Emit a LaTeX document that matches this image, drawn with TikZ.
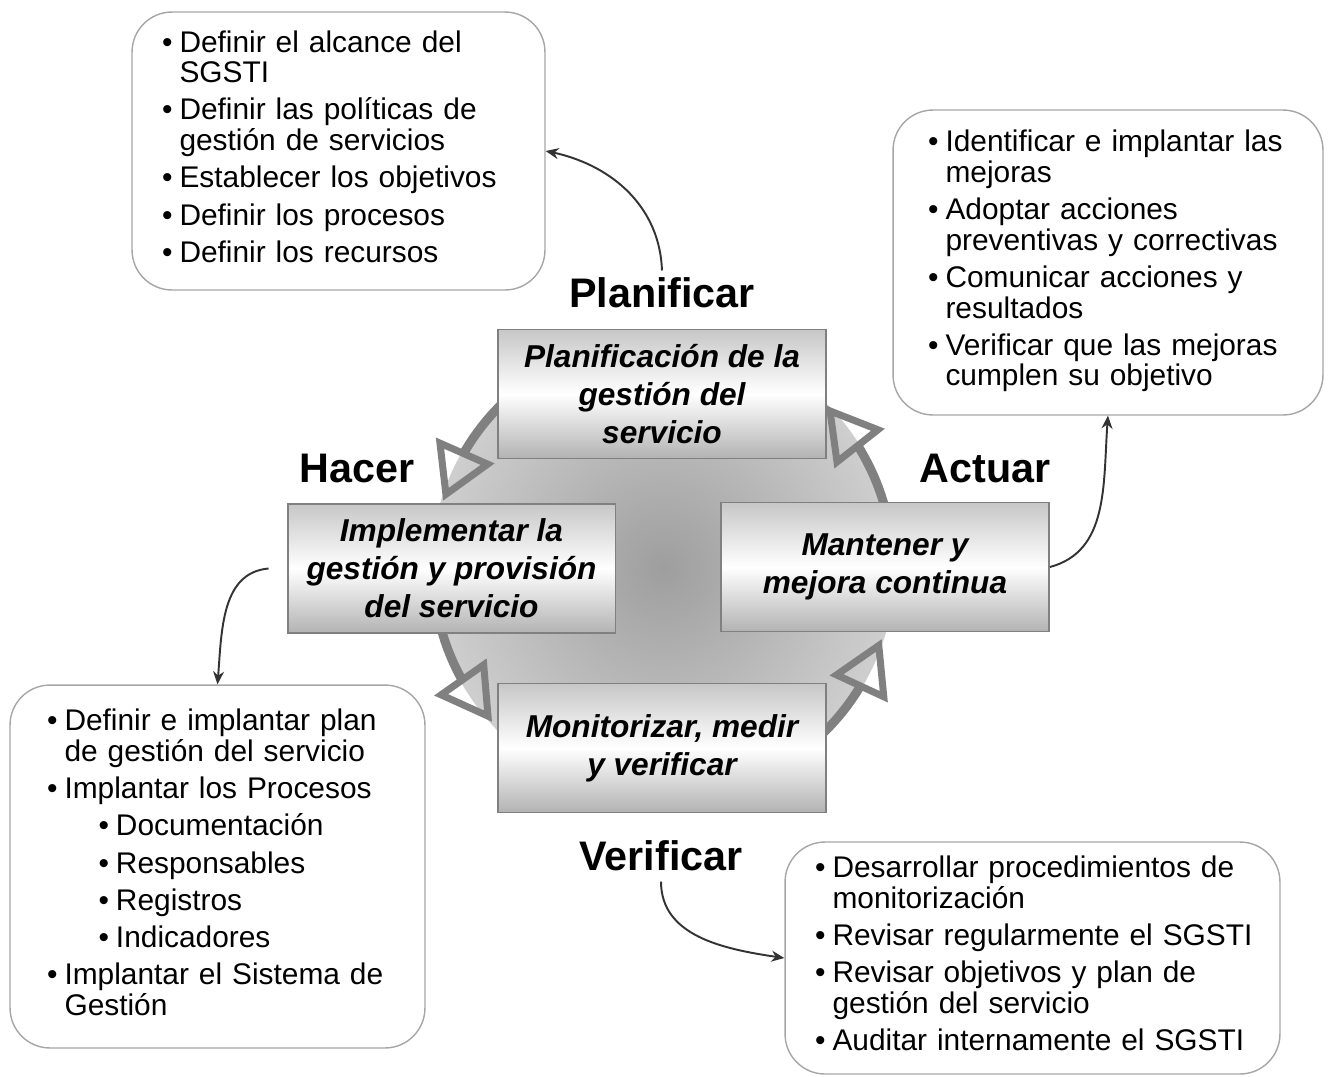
\documentclass[tikz,border=0pt]{standalone}
\usepackage{fontspec}
\setmainfont{Liberation Sans}
\usetikzlibrary{arrows.meta,bending}
\pgfdeclareradialshading{nube}{\pgfpoint{0bp}{0bp}}{color(0bp)=(black!38); color(50bp)=(white)}
\newlength{\saltoitem}
\setlength{\saltoitem}{0.13cm}
\newcommand{\vin}{\textbullet}
\begin{document}
\begin{tikzpicture}[x=0.02cm, y=0.02cm,
    caja/.style={draw=black!35, line width=0.8pt, rounded corners=0.8cm, align=left,
      font=\fontsize{17}{17}\selectfont},
    etapa/.style={draw=black!50, line width=1.1pt, top color=black!22, bottom color=black!30,
      middle color=white, align=center, inner sep=0pt, minimum width=6.56cm, minimum height=2.58cm,
      font=\fontsize{18}{21.6}\selectfont\bfseries\itshape},
    fase/.style={inner sep=0pt, font=\fontsize{23.5}{26}\selectfont\bfseries},
    ciclo/.style={draw=black!50, line width=0.18cm,
      -{Triangle[open, length=1.1cm, width=1.25cm, line width=0.14cm]}},
    conector/.style={draw=black!80, line width=1.1pt, -{Stealth[length=0.26cm, width=0.22cm]}}]
  \useasboundingbox (0,0) rectangle (1328,-1076);
  \coordinate (centro) at (663,-568);
  % fondo y anillo del ciclo
  \shade[shading=nube] (centro) circle[radius=232];
  \draw[ciclo] ([shift={(100:230)}]centro) arc[start angle=100, end angle=163, radius=230];
  \draw[ciclo] ([shift={(190:230)}]centro) arc[start angle=190, end angle=222, radius=230];
  \draw[ciclo] ([shift={(300:230)}]centro) arc[start angle=300, end angle=342, radius=230];
  \draw[ciclo] ([shift={(10:230)}]centro) arc[start angle=10, end angle=45, radius=230];

  % etapas
  \node[etapa] (planif) at (662,-394) {Planificación de la\\gestión del\\servicio};
  \node[etapa] (implem) at (451.5,-568.5) {Implementar la\\gestión y provisión\\del servicio};
  \node[etapa] (manten) at (885,-567) {Mantener y\\mejora continua};
  \node[etapa] (monit) at (662,-748) {Monitorizar, medir\\y verificar};

  \node[fase] (lplan) at (662,-293) {Planificar};
  \node[fase] (lhacer) at (357,-468) {Hacer};
  \node[fase] (lactuar) at (985,-468) {Actuar};
  \node[fase] (lverif) at (661,-856) {Verificar};

  % tareas de cada fase
  \node[caja, text width=7.06cm, inner xsep=0.6cm, minimum height=5.56cm] (bplan) at (338.5,-151) {%
    \begin{tabular}{@{}l@{\hspace{4pt}}l@{}}
      \vin & Definir el alcance del\\ & SGSTI\\[\saltoitem]
      \vin & Definir las políticas de\\ & gestión de servicios\\[\saltoitem]
      \vin & Establecer los objetivos\\[\saltoitem]
      \vin & Definir los procesos\\[\saltoitem]
      \vin & Definir los recursos
    \end{tabular}};
  \node[caja, text width=7.2cm, inner xsep=0.7cm, minimum height=6.1cm] (bactuar) at (1108,-262.5) {%
    \begin{tabular}{@{}l@{\hspace{4pt}}l@{}}
      \vin & Identificar e implantar las\\ & mejoras\\[\saltoitem]
      \vin & Adoptar acciones\\ & preventivas y correctivas\\[\saltoitem]
      \vin & Comunicar acciones y\\ & resultados\\[\saltoitem]
      \vin & Verificar que las mejoras\\ & cumplen su objetivo
    \end{tabular}};
  \node[caja, text width=6.82cm, inner xsep=0.74cm, minimum height=7.26cm] (bhacer) at (217.5,-866.5) {%
    \begin{tabular}{@{}l@{\hspace{4pt}}l@{}}
      \vin & Definir e implantar plan\\ & de gestión del servicio\\[\saltoitem]
      \vin & Implantar los Procesos\\[\saltoitem]
      & \hspace{0.68cm}\vin\hspace{4pt}Documentación\\[\saltoitem]
      & \hspace{0.68cm}\vin\hspace{4pt}Responsables\\[\saltoitem]
      & \hspace{0.68cm}\vin\hspace{4pt}Registros\\[\saltoitem]
      & \hspace{0.68cm}\vin\hspace{4pt}Indicadores\\[\saltoitem]
      \vin & Implantar el Sistema de\\ & Gestión
    \end{tabular}};
  \node[caja, text width=8.7cm, inner xsep=0.6cm, minimum height=4.64cm] (bverif) at (1032.5,-958) {%
    \begin{tabular}{@{}l@{\hspace{4pt}}l@{}}
      \vin & Desarrollar procedimientos de\\ & monitorización\\[\saltoitem]
      \vin & Revisar regularmente el SGSTI\\[\saltoitem]
      \vin & Revisar objetivos y plan de\\ & gestión del servicio\\[\saltoitem]
      \vin & Auditar internamente el SGSTI
    \end{tabular}};

  % conectores
  \draw[conector] ([yshift=0.14cm]lplan.north) to[out=92, in=-10] (bplan.east);
  \draw[conector] (manten.east) to[out=15, in=-95] (bactuar.south);
  \draw[conector] ([xshift=-0.36cm]implem.west) to[out=185, in=85] (bhacer.north);
  \draw[conector] ([yshift=-0.2cm]lverif.south) to[out=-90, in=172] (bverif.west);
\end{tikzpicture}
\end{document}
